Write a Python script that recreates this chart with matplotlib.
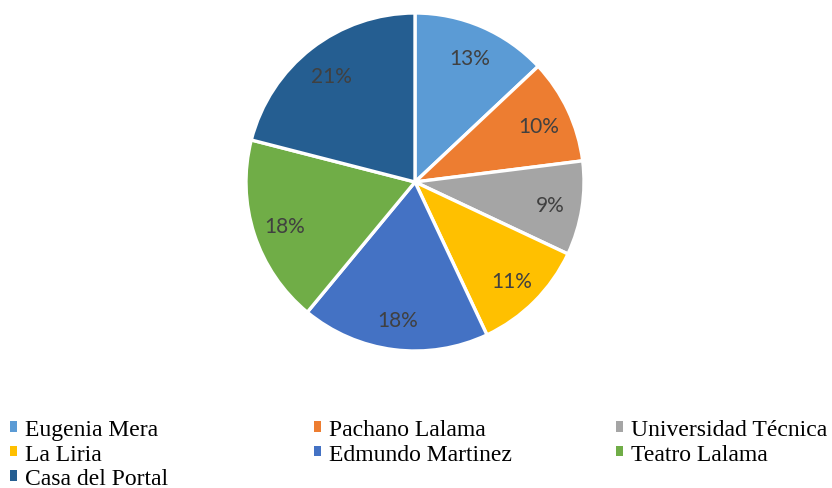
import matplotlib
matplotlib.use("Agg")
import matplotlib.pyplot as plt
from matplotlib.patches import Patch

categories = ["Eugenia Mera", "Pachano Lalama", "Universidad Técnica", "La Liria",
              "Edmundo Martinez", "Teatro Lalama", "Casa del Portal"]
values = [13, 10, 9, 11, 18, 18, 21]
colors = ["#5B9BD5", "#ED7D31", "#A5A5A5", "#FFC000", "#4472C4", "#70AD47", "#255E91"]

W, H = 832, 489
fig = plt.figure(figsize=(W / 100, H / 100), dpi=100)
cx, cy, r = 415, 183, 169
m = 177
ax = fig.add_axes([(cx - m) / W, 1 - (cy + m) / H, 2 * m / W, 2 * m / H])

wedges, texts, autotexts = ax.pie(
    values, colors=colors, startangle=90, counterclock=False,
    autopct=lambda p: f"{p:.0f}%", pctdistance=0.81,
    wedgeprops=dict(edgecolor="white", linewidth=2.4),
    textprops=dict(color="#404040", fontsize=15, family=["Lato", "DejaVu Sans"]))
for t in autotexts:
    t.set_va("center_baseline")
ax.set_xlim(-m / r, m / r)
ax.set_ylim(-m / r, m / r)
ax.set_aspect("equal")

# legend in three columns, row-wise order
col_x = [10, 314, 616]
rows_y = 420
for c in range(3):
    idx = [i for i in range(len(categories)) if i % 3 == c]
    handles = [Patch(facecolor=colors[i], edgecolor="none") for i in idx]
    labels = [categories[i] for i in idx]
    fig.legend(handles, labels, loc="upper left",
               bbox_to_anchor=(col_x[c] / W, 1 - rows_y / H),
               frameon=False, handlelength=0.3, handleheight=0.3,
               handletextpad=0.33, labelspacing=0.15, borderpad=0, borderaxespad=0,
               prop=dict(family=["Liberation Serif"], size=17))

fig.savefig("out.png", dpi=100)
